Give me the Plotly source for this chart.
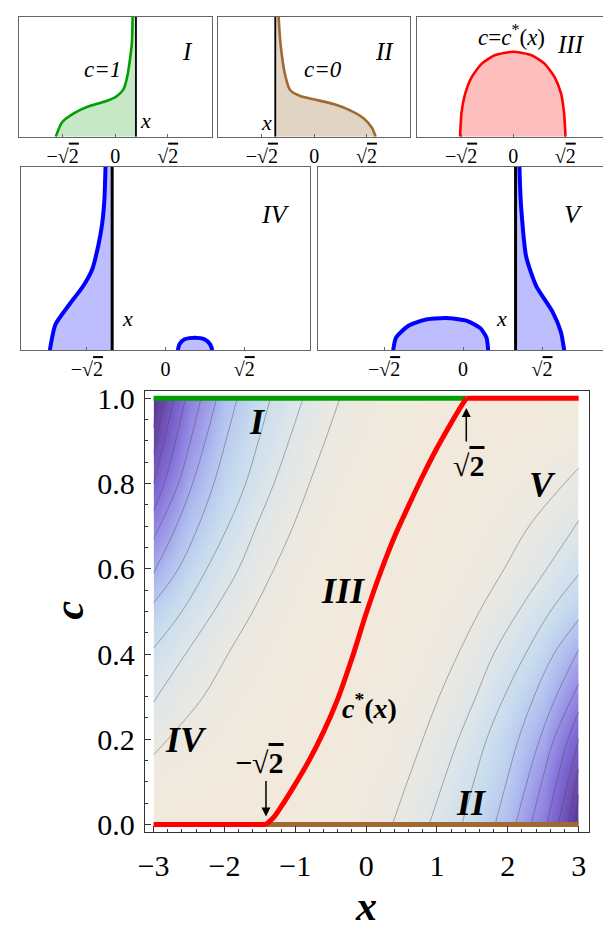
import plotly.graph_objects as go

FONT = "Liberation Serif"
SQ = "√<span style='text-decoration:overline'>2</span>"
W, H, OFF = 603, 927, 8   # page body has an 8px margin

# ---- small panels ----
p1_x = [-1.60, -1.43, -1.08, -0.65, -0.21, 0.05, 0.23, 0.33, 0.40, 0.45, 0.47]
p1_y = [0.0, 0.12, 0.20, 0.26, 0.30, 0.34, 0.40, 0.51, 0.65, 0.78, 1.0]
p1_xline = 0.56

p2_x = [1.66, 1.57, 1.35, 1.0, 0.55, 0.02, -0.38, -0.65, -0.78, -0.91, -0.96]
p2_y = [0.0, 0.07, 0.15, 0.215, 0.27, 0.31, 0.34, 0.39, 0.51, 0.78, 1.0]
p2_xline = -1.05

p3_x = [-1.44, -1.40, -1.30, -1.12, -0.85, -0.50, 0.0, 0.50, 0.85, 1.12, 1.30, 1.38, 1.42]
p3_y = [0.0, 0.20, 0.36, 0.50, 0.61, 0.68, 0.71, 0.68, 0.61, 0.50, 0.36, 0.20, 0.0]

p4_x = [-2.08, -1.98, -1.74, -1.48, -1.32, -1.21, -1.14, -1.10, -1.08]
p4_y = [0.0, 0.14, 0.245, 0.35, 0.44, 0.57, 0.69, 0.82, 1.0]
p4_xline = -0.96
p4_bump_x = [0.22, 0.25, 0.34, 0.52, 0.70, 0.80, 0.84]
p4_bump_y = [0.0, 0.032, 0.059, 0.068, 0.059, 0.032, 0.0]

p5_x = [1.81, 1.75, 1.60, 1.31, 1.13, 1.04, 1.02, 1.01]
p5_y = [0.0, 0.10, 0.21, 0.35, 0.51, 0.78, 0.90, 1.0]
p5_xline = 0.94
p5_bump_x = [-1.25, -1.20, -0.99, -0.69, -0.31, 0.07, 0.31, 0.42, 0.45]
p5_bump_y = [0.0, 0.068, 0.13, 0.165, 0.175, 0.16, 0.12, 0.068, 0.0]

small_ticks = [-1.414, 0, 1.414]
small_ticktext = ["−" + SQ, "0", SQ]

# ---- main panel ----
root2 = 1.414
cstar_x = [-1.414, -1.3, -1.2, -1.0, -0.8, -0.6, -0.4, -0.2, 0.0,
           0.2, 0.4, 0.6, 0.8, 1.0, 1.2, 1.3, 1.414]
cstar_c = [0.0, 0.018, 0.042, 0.095, 0.152, 0.218, 0.295, 0.39, 0.495,
           0.59, 0.675, 0.748, 0.818, 0.883, 0.942, 0.97, 1.0]
low_x, low_c = [-3.0, -1.414], [0.0, 0.0]      # c* = 0 part
high_x, high_c = [1.414, 3.0], [1.0, 1.0]      # c* = 1 part
green_x, green_c = [-3.0, 1.414], [1.0, 1.0]   # c = 1 (region I)
brown_x, brown_c = [-1.414, 3.0], [0.0, 0.0]   # c = 0 (region II)

# background shade (level away from the pale valley), coarse grid
grid_x = [-3, -2.5, -2, -1.5, -1, -0.5, 0, 0.5, 1, 1.5, 2, 2.5, 3]
grid_c = [0.0, 0.1, 0.2, 0.3, 0.4, 0.5, 0.6, 0.7, 0.8, 0.9, 1.0]
grid_z = [
    [0.1, 0.05, 0.05, 0.05, 0.23, 0.51, 0.79, 1.25, 2.24, 3.32, 4.62, 6.77, 10.4],
    [0.6, 0.44, 0.28, 0.13, 0.06, 0.36, 0.65, 0.95, 1.82, 2.95, 4.07, 6.1, 9.4],
    [1.25, 0.86, 0.63, 0.40, 0.17, 0.10, 0.44, 0.79, 1.4, 2.5, 3.67, 5.25, 8.0],
    [2.08, 1.31, 0.84, 0.59, 0.33, 0.07, 0.26, 0.62, 0.98, 1.9, 3.12, 4.42, 6.5],
    [2.95, 1.92, 1.08, 0.75, 0.46, 0.18, 0.12, 0.46, 0.8, 1.4, 2.44, 3.62, 5.2],
    [3.85, 2.78, 1.73, 0.94, 0.62, 0.31, 0.01, 0.32, 0.63, 0.94, 1.73, 2.78, 3.85],
    [5.2, 3.62, 2.44, 1.4, 0.8, 0.46, 0.12, 0.18, 0.46, 0.75, 1.08, 1.92, 2.95],
    [6.5, 4.42, 3.12, 1.9, 0.98, 0.62, 0.26, 0.07, 0.33, 0.59, 0.84, 1.31, 2.08],
    [8.0, 5.25, 3.67, 2.5, 1.4, 0.79, 0.44, 0.10, 0.17, 0.40, 0.63, 0.86, 1.25],
    [9.4, 6.1, 4.07, 2.95, 1.82, 0.95, 0.65, 0.36, 0.06, 0.13, 0.28, 0.44, 0.6],
    [10.4, 6.77, 4.62, 3.32, 2.24, 1.25, 0.79, 0.51, 0.23, 0.05, 0.05, 0.05, 0.1],
]

# thin level lines: (x values, c values)
right_lines = [
    ([0.37, 0.58, 0.8, 1.03, 1.3, 1.6, 1.95, 2.3, 2.8, 3.0], [0, 0.1, 0.2, 0.3, 0.4, 0.5, 0.6, 0.7, 0.8, 0.836]),
    ([0.89, 1.09, 1.3, 1.55, 1.8, 2.15, 2.55, 2.95, 3.0], [0, 0.1, 0.2, 0.3, 0.4, 0.5, 0.6, 0.7, 0.713]),
    ([1.35, 1.52, 1.7, 1.95, 2.25, 2.6, 3.0], [0, 0.1, 0.2, 0.3, 0.4, 0.5, 0.586]),
    ([1.82, 1.98, 2.15, 2.37, 2.65, 3.0], [0, 0.1, 0.2, 0.3, 0.4, 0.48]),
    ([2.11, 2.27, 2.45, 2.68, 3.0], [0, 0.1, 0.2, 0.3, 0.41]),
    ([2.33, 2.48, 2.65, 3.0], [0, 0.1, 0.2, 0.33]),
    ([2.55, 2.69, 2.85, 3.0], [0, 0.1, 0.2, 0.264]),
    ([2.71, 2.85, 3.0], [0, 0.1, 0.2]),
    ([2.85, 2.92, 3.0], [0, 0.065, 0.13]),
    ([2.96, 3.0], [0, 0.07]),
]
left_lines = [
    ([-0.37, -0.58, -0.8, -1.03, -1.3, -1.6, -1.95, -2.3, -2.8, -3.0], [1, 0.9, 0.8, 0.7, 0.6, 0.5, 0.4, 0.3, 0.2, 0.164]),
    ([-0.89, -1.09, -1.3, -1.55, -1.8, -2.15, -2.55, -2.95, -3.0], [1, 0.9, 0.8, 0.7, 0.6, 0.5, 0.4, 0.3, 0.287]),
    ([-1.35, -1.52, -1.7, -1.95, -2.25, -2.6, -3.0], [1, 0.9, 0.8, 0.7, 0.6, 0.5, 0.414]),
    ([-1.82, -1.98, -2.15, -2.37, -2.65, -3.0], [1, 0.9, 0.8, 0.7, 0.6, 0.52]),
    ([-2.11, -2.27, -2.45, -2.68, -3.0], [1, 0.9, 0.8, 0.7, 0.59]),
    ([-2.33, -2.48, -2.65, -3.0], [1, 0.9, 0.8, 0.67]),
    ([-2.55, -2.69, -2.85, -3.0], [1, 0.9, 0.8, 0.736]),
    ([-2.71, -2.85, -3.0], [1, 0.9, 0.8]),
    ([-2.85, -2.92, -3.0], [1, 0.935, 0.87]),
    ([-2.96, -3.0], [1, 0.93]),
]

GREEN = "rgb(0,160,0)"
BROWN = "rgb(160,105,50)"
RED = "rgb(255,0,0)"
BLUE = "rgb(0,0,255)"

fig = go.Figure()


def px(x0, x1, y0, y1):
    # reference pixel box -> paper domains
    return [(x0 - OFF) / W, (x1 - OFF) / W], [1 - (y1 - OFF) / H, 1 - (y0 - OFF) / H]


def add_shape_with_line(ax, cx, cy, xline, color, fill, width, vwidth):
    fig.add_trace(go.Scatter(x=cx + [xline, xline], y=cy + [1, 0], fill="toself", fillcolor=fill,
                             mode="lines", line=dict(width=0), xaxis="x" + ax, yaxis="y" + ax,
                             hoverinfo="skip"))
    fig.add_trace(go.Scatter(x=[xline, xline], y=[0, 1], mode="lines",
                             line=dict(color="black", width=vwidth), xaxis="x" + ax, yaxis="y" + ax))
    fig.add_trace(go.Scatter(x=cx, y=cy, mode="lines", line=dict(color=color, width=width, shape="spline", smoothing=0.6),
                             xaxis="x" + ax, yaxis="y" + ax))


def add_blob(ax, bx, by, color, fill, width):
    fig.add_trace(go.Scatter(x=bx, y=by, fill="toself", fillcolor=fill, mode="lines",
                             line=dict(color=color, width=width, shape="spline", smoothing=0.6),
                             xaxis="x" + ax, yaxis="y" + ax))


def main_line(x, y, color, shape="linear"):
    fig.add_trace(go.Scatter(x=x, y=y, mode="lines", xaxis="x6", yaxis="y6",
                             line=dict(color=color, width=5, shape=shape, smoothing=0.8)))


add_shape_with_line("", p1_x, p1_y, p1_xline, GREEN, "rgb(198,232,198)", 2.6, 1.8)
add_shape_with_line("2", p2_x, p2_y, p2_xline, BROWN, "rgb(226,212,196)", 2.6, 1.8)
add_blob("3", p3_x, p3_y, RED, "rgb(255,190,190)", 2.6)
add_shape_with_line("4", p4_x, p4_y, p4_xline, BLUE, "rgb(190,190,255)", 4, 3)
add_blob("4", p4_bump_x, p4_bump_y, BLUE, "rgb(190,190,255)", 4)
add_shape_with_line("5", p5_x, p5_y, p5_xline, BLUE, "rgb(190,190,255)", 4, 3)
add_blob("5", p5_bump_x, p5_bump_y, BLUE, "rgb(190,190,255)", 4)

# main shaded field
fig.add_trace(go.Contour(
    x=grid_x, y=grid_c, z=grid_z, xaxis="x6", yaxis="y6",
    zmin=0, zmax=10.5, showscale=False, hoverinfo="skip",
    colorscale=[[0, "rgb(242,233,218)"], [0.08, "rgb(238,233,224)"], [0.2, "rgb(222,230,234)"],
                [0.32, "rgb(200,220,238)"], [0.44, "rgb(176,190,240)"], [0.55, "rgb(156,152,232)"],
                [0.7, "rgb(130,110,215)"], [1, "rgb(90,50,150)"]],
    contours=dict(start=1, end=10, size=1, coloring="heatmap", showlines=False),
    line=dict(width=0),
))
for lx, lc in right_lines + left_lines:
    fig.add_trace(go.Scatter(x=lx, y=lc, mode="lines", hoverinfo="skip",
                             line=dict(color="rgba(70,70,70,0.6)", width=0.7, shape="spline", smoothing=1.0),
                             xaxis="x6", yaxis="y6"))

main_line(green_x, green_c, GREEN)
main_line(brown_x, brown_c, BROWN)
main_line(low_x, low_c, RED)
main_line(high_x, high_c, RED)
main_line(cstar_x, cstar_c, RED, shape="spline")

small_x = dict(range=[-2.6, 2.6], showgrid=False, zeroline=False, showline=True, mirror=True,
               linecolor="#666", linewidth=1, ticks="inside", ticklen=3, tickcolor="#666",
               tickvals=small_ticks, ticktext=small_ticktext, ticklabelstandoff=1,
               tickfont=dict(family=FONT, size=20, color="black"))
small_y = dict(range=[0, 1], showgrid=False, zeroline=False, showline=True, mirror=True,
               linecolor="#666", linewidth=1, ticks="", showticklabels=False)

boxes = {
    "": px(11.7, 207, 6, 130),
    "2": px(213.3, 408, 6, 130),
    "3": px(415, 609, 6, 130),
    "4": px(14, 306.7, 161, 347.7),
    "5": px(314.3, 608.3, 161, 347.7),
}
layout_axes = {}
for k, (dx, dy) in boxes.items():
    dx = [max(0, dx[0]), min(1, dx[1])]
    dy = [max(0, dy[0]), min(1, dy[1])]
    layout_axes["xaxis" + k] = dict(small_x, domain=dx, anchor="y" + k)
    layout_axes["yaxis" + k] = dict(small_y, domain=dy, anchor="x" + k)

mdx, mdy = px(139.3, 588.3, 389.3, 839)
layout_axes["xaxis6"] = dict(domain=mdx, anchor="y6", range=[-3.125, 3.14], showgrid=False, zeroline=False,
                             showline=True, mirror=True, linecolor="#333", linewidth=1,
                             ticks="inside", ticklen=6, tickcolor="#333", tickvals=[-3, -2, -1, 0, 1, 2, 3],
                             minor=dict(ticks="inside", ticklen=3, dtick=0.2, tick0=0, tickcolor="#333"),
                             ticklabelstandoff=7,
                             tickfont=dict(family=FONT, size=30, color="black"))
layout_axes["yaxis6"] = dict(domain=mdy, anchor="x6", range=[-0.017, 1.017], showgrid=False, zeroline=False,
                             showline=True, mirror=True, linecolor="#333", linewidth=1,
                             ticks="inside", ticklen=6, tickcolor="#333", dtick=0.2, tick0=0, tickformat=".1f",
                             minor=dict(ticks="inside", ticklen=3, dtick=0.05, tick0=0, tickcolor="#333"),
                             ticklabelstandoff=3,
                             tickfont=dict(family=FONT, size=30, color="black"))


def note(ax, x, y, text, size, **kw):
    return dict(xref="x" + ax, yref="y" + ax, x=x, y=y, text=text, showarrow=False,
                xanchor="center", yanchor="middle",
                font=dict(family=FONT, size=size, color="black"), **kw)


annotations = [
    note("", 1.96, 0.71, "<i>I</i>", 25),
    note("", -0.33, 0.565, "<i>c=1</i>", 23),
    note("", 0.82, 0.137, "<i>x</i>", 22),
    note("2", 1.91, 0.71, "<i>II</i>", 25),
    note("2", 0.25, 0.565, "<i>c=0</i>", 23),
    note("2", -1.30, 0.12, "<i>x</i>", 22),
    note("3", -0.05, 0.847, "<i>c</i>=<i>c</i><sup>*</sup>(<i>x</i>)", 23),
    note("3", 1.56, 0.766, "<i>III</i>", 25),
    note("4", 1.98, 0.738, "<i>IV</i>", 26),
    note("4", -0.69, 0.175, "<i>x</i>", 22),
    note("5", 1.98, 0.738, "<i>V</i>", 26),
    note("5", 0.68, 0.175, "<i>x</i>", 22),
    note("6", -1.53, 0.943, "<b><i>I</i></b>", 36),
    note("6", -0.325, 0.548, "<b><i>III</i></b>", 36),
    note("6", 2.49, 0.797, "<b><i>V</i></b>", 36),
    note("6", -2.54, 0.199, "<b><i>IV</i></b>", 36),
    note("6", 1.49, 0.05, "<b><i>II</i></b>", 36),
    note("6", 0.045, 0.276, "<b><i>c</i><sup>*</sup>(<i>x</i>)</b>", 28),
    note("6", 1.44, 0.843, "<b>" + SQ + "</b>", 30),
    note("6", -1.51, 0.146, "<b>−" + SQ + "</b>", 30),
    dict(xref="x6", yref="y6", x=root2, y=0.977, ax=0, ay=35, text="", showarrow=True,
         arrowhead=2, arrowsize=1.2, arrowwidth=1.5, arrowcolor="black"),
    dict(xref="x6", yref="y6", x=-root2, y=0.019, ax=0, ay=-37, text="", showarrow=True,
         arrowhead=2, arrowsize=1.2, arrowwidth=1.5, arrowcolor="black"),
    dict(xref="paper", yref="paper", x=(63 - OFF) / W, y=1 - (613 - OFF) / H, text="<b><i>c</i></b>",
         showarrow=False, xanchor="center", yanchor="middle",
         textangle=-90, font=dict(family=FONT, size=42, color="black")),
    dict(xref="paper", yref="paper", x=(363 - OFF) / W, y=1 - (915 - OFF) / H, text="<b><i>x</i></b>",
         showarrow=False, xanchor="center", yanchor="middle",
         font=dict(family=FONT, size=42, color="black")),
]

fig.update_layout(width=W, height=H, margin=dict(l=0, r=0, t=0, b=0),
                  paper_bgcolor="white", plot_bgcolor="white", showlegend=False,
                  annotations=annotations, **layout_axes)

fig.write_html("out.html")
